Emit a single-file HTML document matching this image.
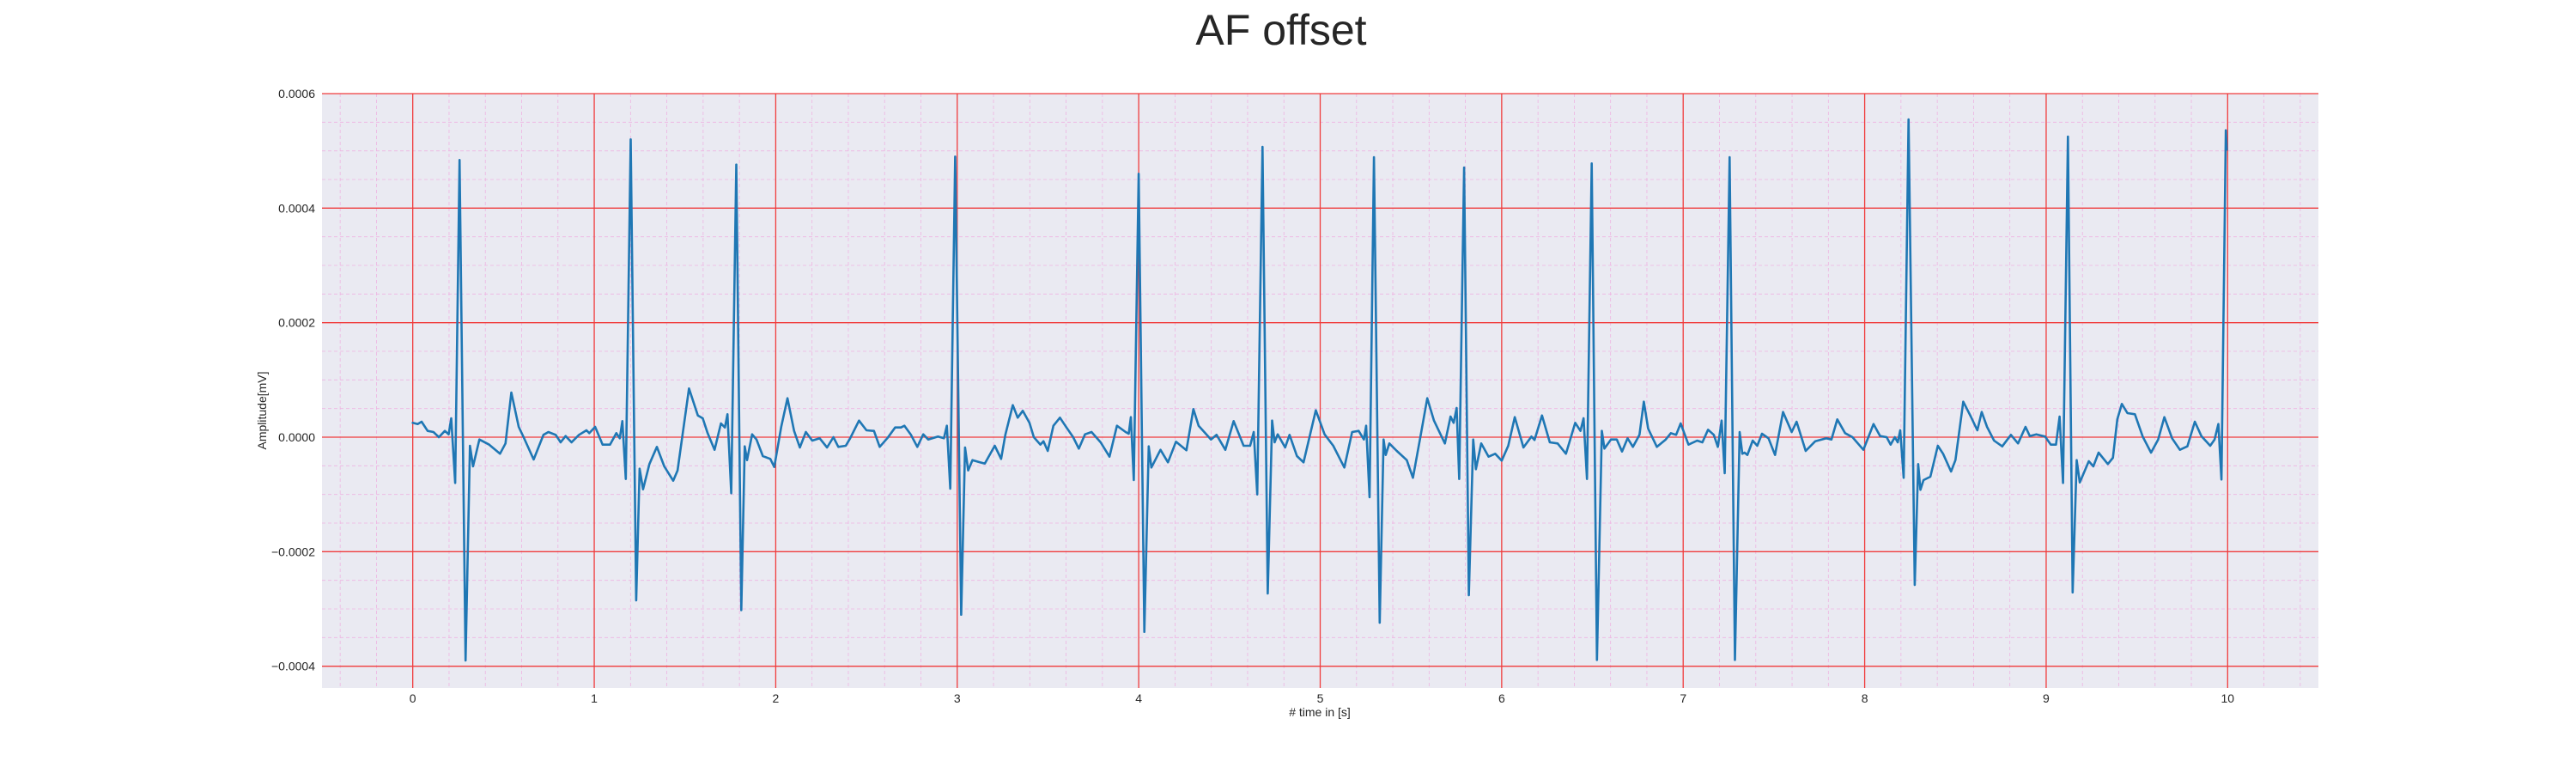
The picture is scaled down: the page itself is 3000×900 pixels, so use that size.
<!DOCTYPE html>
<html>
<head>
<meta charset="utf-8">
<style>
  html, body { margin: 0; padding: 0; background: #ffffff; }
  body { width: 3000px; height: 900px; overflow: hidden; }
  svg { display: block; font-family: "Liberation Sans", "DejaVu Sans", sans-serif; }
</style>
</head>
<body>
<svg id="chart" width="3000" height="900" viewBox="0 0 3000 900" xmlns="http://www.w3.org/2000/svg">
  <text x="1492" y="52" font-size="50" text-anchor="middle" fill="#262626">AF offset</text>
  <rect x="375" y="109" width="2325" height="692" fill="#eaeaf2"></rect>
  <g id="grid-minor"></g>
  <g id="grid-major"></g>
  <g id="series"></g>
  <g id="xticks"></g>
  <g id="yticks"></g>
  <text x="1537" y="834" font-size="14" text-anchor="middle" fill="#262626"># time in [s]</text>
  <text x="0" y="0" font-size="14" text-anchor="middle" fill="#262626" transform="translate(310,478) rotate(-90)">Amplitude[mV]</text>
</svg>
<script>
// ---- data ----
const xTickValues = [0,1,2,3,4,5,6,7,8,9,10];
const xTickLabels = ["0","1","2","3","4","5","6","7","8","9","10"];
const yTickValues = [-0.0004,-0.0002,0,0.0002,0.0004,0.0006];
const yTickLabels = ["\u22120.0004","\u22120.0002","0.0000","0.0002","0.0004","0.0006"];
const timeS = [0,0.027,0.049,0.082,0.114,0.144,0.177,0.198,0.212,0.234,0.258,0.291,0.315,0.332,0.367,0.421,0.481,0.511,0.543,0.584,0.611,0.666,0.720,0.747,0.788,0.815,0.842,0.875,0.916,0.957,0.973,1.005,1.046,1.087,1.122,1.141,1.155,1.174,1.201,1.231,1.250,1.269,1.304,1.345,1.386,1.435,1.459,1.522,1.571,1.598,1.625,1.663,1.698,1.720,1.734,1.755,1.783,1.810,1.829,1.842,1.870,1.894,1.929,1.970,1.992,2.030,2.065,2.101,2.133,2.166,2.201,2.242,2.283,2.318,2.345,2.386,2.410,2.459,2.500,2.541,2.573,2.617,2.658,2.690,2.709,2.745,2.780,2.813,2.840,2.894,2.927,2.943,2.962,2.989,3.022,3.043,3.060,3.084,3.125,3.152,3.207,3.242,3.265,3.306,3.333,3.361,3.398,3.422,3.458,3.475,3.499,3.530,3.566,3.602,3.639,3.670,3.704,3.740,3.790,3.839,3.880,3.928,3.945,3.957,3.973,4.000,4.031,4.055,4.070,4.120,4.161,4.205,4.263,4.301,4.330,4.398,4.429,4.477,4.523,4.578,4.614,4.634,4.653,4.682,4.711,4.735,4.749,4.766,4.807,4.831,4.872,4.908,4.976,5.024,5.072,5.133,5.176,5.212,5.241,5.253,5.272,5.296,5.328,5.349,5.361,5.381,5.422,5.477,5.511,5.554,5.590,5.627,5.687,5.718,5.735,5.752,5.766,5.793,5.819,5.843,5.858,5.887,5.928,5.964,6.000,6.036,6.072,6.120,6.164,6.181,6.222,6.265,6.308,6.354,6.405,6.434,6.451,6.470,6.496,6.525,6.552,6.566,6.602,6.634,6.663,6.694,6.723,6.759,6.783,6.807,6.855,6.904,6.932,6.961,6.986,7.029,7.077,7.106,7.137,7.169,7.191,7.212,7.229,7.256,7.285,7.311,7.326,7.338,7.354,7.383,7.408,7.434,7.470,7.506,7.550,7.598,7.625,7.675,7.728,7.789,7.817,7.849,7.892,7.933,7.993,8.049,8.085,8.121,8.143,8.166,8.182,8.196,8.215,8.242,8.276,8.295,8.307,8.324,8.362,8.403,8.432,8.476,8.500,8.543,8.585,8.621,8.645,8.674,8.713,8.758,8.806,8.845,8.886,8.910,8.946,8.994,9.026,9.054,9.074,9.093,9.120,9.146,9.168,9.185,9.235,9.260,9.289,9.340,9.368,9.392,9.417,9.448,9.489,9.532,9.578,9.617,9.651,9.694,9.737,9.778,9.819,9.855,9.904,9.928,9.949,9.966,9.990,9.995];
const amplitudeE4 = [0.25,0.23,0.27,0.11,0.09,0,0.11,0.05,0.33,-0.80,4.84,-3.90,-0.15,-0.51,-0.04,-0.13,-0.29,-0.11,0.78,0.18,0,-0.39,0.04,0.09,0.04,-0.09,0.02,-0.09,0.04,0.12,0.07,0.18,-0.13,-0.13,0.07,-0.02,0.28,-0.73,5.2,-2.85,-0.55,-0.91,-0.47,-0.17,-0.51,-0.76,-0.58,0.85,0.38,0.33,0.07,-0.22,0.24,0.17,0.40,-0.98,4.76,-3.02,-0.16,-0.4,0.05,-0.04,-0.33,-0.38,-0.52,0.18,0.68,0.11,-0.18,0.09,-0.06,-0.02,-0.18,0,-0.17,-0.15,-0.02,0.29,0.12,0.11,-0.17,-0.01,0.17,0.17,0.20,0.04,-0.17,0.05,-0.04,0.01,-0.02,0.2,-0.9,4.9,-3.1,-0.18,-0.58,-0.4,-0.44,-0.46,-0.15,-0.38,0.04,0.56,0.34,0.46,0.25,0,-0.13,-0.07,-0.24,0.2,0.34,0.17,0,-0.2,0.05,0.09,-0.09,-0.34,0.2,0.09,0.06,0.35,-0.75,4.6,-3.4,-0.16,-0.53,-0.22,-0.44,-0.08,-0.23,0.49,0.2,-0.04,0.04,-0.22,0.28,-0.15,-0.15,0.09,-1.0,5.07,-2.73,0.29,-0.09,0.05,-0.18,0.04,-0.33,-0.44,0.47,0.05,-0.15,-0.53,0.09,0.11,-0.04,0.2,-1.05,4.89,-3.24,-0.04,-0.31,-0.11,-0.24,-0.4,-0.71,0.04,0.68,0.29,-0.11,0.36,0.25,0.51,-0.73,4.71,-2.76,-0.04,-0.56,-0.11,-0.34,-0.29,-0.41,-0.15,0.35,-0.18,0.01,-0.05,0.38,-0.09,-0.11,-0.29,0.25,0.11,0.33,-0.73,4.78,-3.89,0.11,-0.2,-0.04,-0.04,-0.25,-0.02,-0.17,0.04,0.62,0.15,-0.17,-0.04,0.07,0.04,0.24,-0.13,-0.06,-0.09,0.13,0.04,-0.17,0.29,-0.63,4.89,-3.89,0.09,-0.29,-0.27,-0.31,-0.06,-0.15,0.06,-0.02,-0.31,0.44,0.09,0.27,-0.24,-0.07,-0.02,-0.04,0.31,0.07,0,-0.22,0.23,0.02,0,-0.13,0,-0.09,0.12,-0.71,5.55,-2.58,-0.47,-0.92,-0.75,-0.69,-0.15,-0.29,-0.6,-0.4,0.62,0.36,0.12,0.44,0.18,-0.06,-0.16,0.04,-0.11,0.18,0.02,0.05,0.01,-0.13,-0.13,0.36,-0.8,5.25,-2.71,-0.4,-0.79,-0.42,-0.51,-0.27,-0.47,-0.36,0.31,0.58,0.42,0.4,0.01,-0.27,-0.04,0.35,-0.02,-0.22,-0.16,0.27,0.02,-0.15,-0.04,0.23,-0.74,5.36,5.02];

// ---- axes ----
const X0 = 375, X1 = 2700, Y0 = 109, Y1 = 801;
const xMin = -0.5, xMax = 10.5, yMin = -0.000438, yMax = 0.0006;
function xScale(t) { return X0 + (t - xMin) / (xMax - xMin) * (X1 - X0); }
function yScale(v) { return Y1 - (v - yMin) / (yMax - yMin) * (Y1 - Y0); }
const NS = "http://www.w3.org/2000/svg";
function mk(tag, attrs, parent) {
  const el = document.createElementNS(NS, tag);
  for (const k in attrs) el.setAttribute(k, attrs[k]);
  parent.appendChild(el);
  return el;
}
const gMinor = document.getElementById('grid-minor');
const gMajor = document.getElementById('grid-major');
for (let i = -2; i <= 52; i++) {
  const t = i * 0.2;
  if (t < xMin || t > xMax) continue;
  const l = mk('line', {x1: xScale(t), x2: xScale(t), y1: Y0, y2: Y1, stroke: '#eeb4e2', 'stroke-width': 0.8, 'stroke-dasharray': '4,3'}, gMinor);
  
  
}
for (let i = -9; i <= 12; i++) {
  const v = i * 0.00005;
  if (v < yMin || v > yMax) continue;
  const l = mk('line', {x1: X0, x2: X1, y1: yScale(v), y2: yScale(v), stroke: '#eeb4e2', 'stroke-width': 0.8, 'stroke-dasharray': '4,3'}, gMinor);
  
  
}
const gx = document.getElementById('xticks');
xTickValues.forEach((t, i) => {
  const l = mk('line', {x1: xScale(t), x2: xScale(t), y1: Y0, y2: Y1, stroke: '#f03c3c', 'stroke-width': 1.3}, gMajor);
  
  
  const tx = mk('text', {x: xScale(t), y: 818, 'font-size': 14, 'text-anchor': 'middle', fill: '#262626'}, gx);
  tx.textContent = xTickLabels[i];
  
  
});
const gy = document.getElementById('yticks');
yTickValues.forEach((v, i) => {
  const l = mk('line', {x1: X0, x2: X1, y1: yScale(v), y2: yScale(v), stroke: '#f03c3c', 'stroke-width': 1.3}, gMajor);
  
  
  const tx = mk('text', {x: 367, y: yScale(v) + 5, 'font-size': 14, 'text-anchor': 'end', fill: '#262626'}, gy);
  tx.textContent = yTickLabels[i];
  
  
});
const pts = timeS.map((t, i) => xScale(t).toFixed(1) + ',' + yScale(amplitudeE4[i] * 1e-4).toFixed(1)).join(' ');
const line = mk('polyline', {points: pts, fill: 'none', stroke: '#1f77b4', 'stroke-width': 2.6, 'stroke-linejoin': 'round', 'stroke-linecap': 'round'}, document.getElementById('series'));


</script>
</body>
</html>
